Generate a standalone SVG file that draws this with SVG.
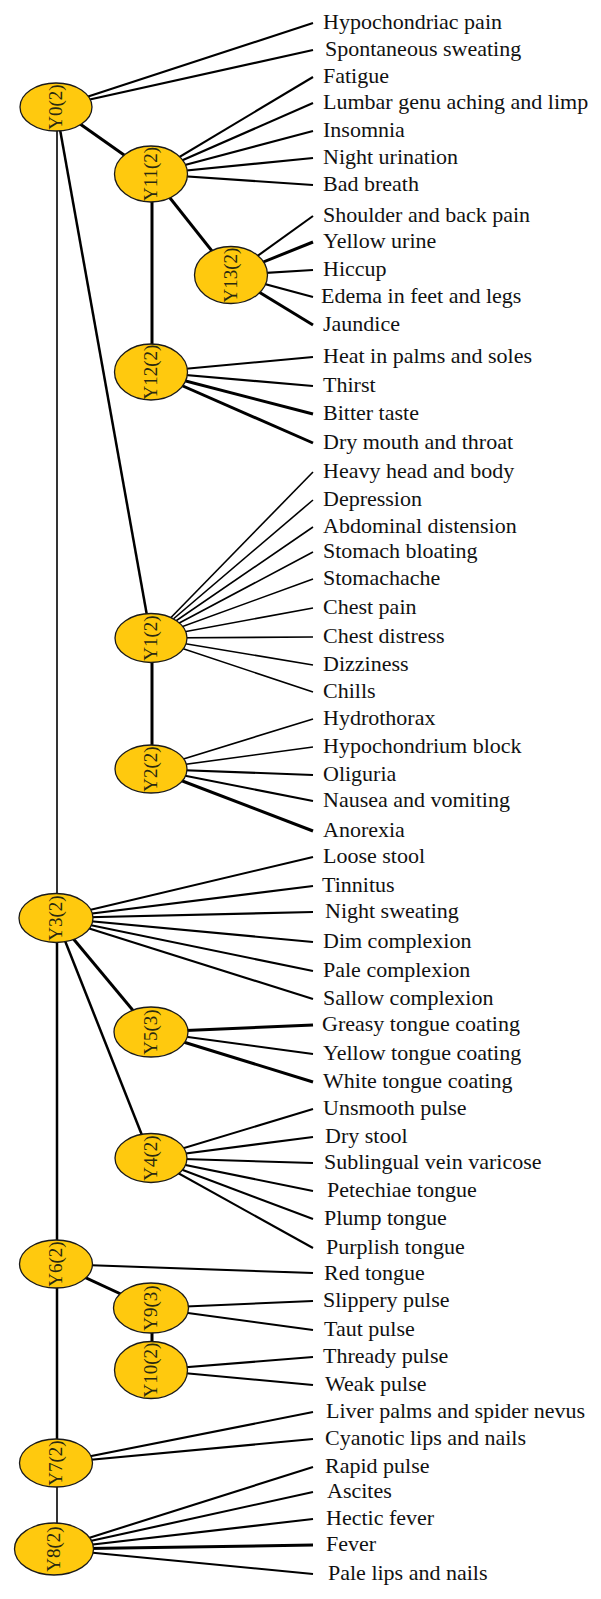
<svg xmlns="http://www.w3.org/2000/svg" width="601" height="1599" viewBox="0 0 601 1599">
<style>
.bg{fill:#ffffff}
line{stroke:#000;stroke-linecap:butt}
.e1{stroke-width:1.6}
.e2{stroke-width:2.1}
.e25{stroke-width:2.5}
.e3{stroke-width:3}
.node ellipse{fill:#FFC90E;stroke:#1a1a1a;stroke-width:1.3}
.node text{font-family:"Liberation Serif","Times New Roman",serif;font-size:19px;fill:#2a2a10;text-anchor:middle}
.lbl{font-family:"Liberation Serif","Times New Roman",serif;font-size:22px;fill:#111}
</style>
<rect class="bg" x="0" y="0" width="601" height="1599"/>
<g id="connectors">
<line class="e1" x1="57" y1="107" x2="57" y2="918"/>
<line class="e25" x1="57" y1="918" x2="57" y2="1264"/>
<line class="e25" x1="57" y1="1264" x2="57" y2="1463"/>
<line class="e1" x1="57" y1="1463" x2="57" y2="1549"/>
<line class="e3" x1="56" y1="107" x2="151" y2="174"/>
<line class="e25" x1="56" y1="107" x2="151" y2="638"/>
<line class="e3" x1="151" y1="174" x2="231" y2="275"/>
<line class="e3" x1="152" y1="174" x2="152" y2="372"/>
<line class="e3" x1="152" y1="638" x2="152" y2="769"/>
<line class="e3" x1="56" y1="918" x2="151" y2="1032"/>
<line class="e25" x1="56" y1="918" x2="151" y2="1158"/>
<line class="e3" x1="56" y1="1264" x2="151" y2="1308"/>
<line class="e3" x1="152" y1="1308" x2="152" y2="1370"/>
<line class="e2" x1="56" y1="107" x2="313" y2="23"/>
<line class="e2" x1="56" y1="107" x2="313" y2="50"/>
<line class="e2" x1="151" y1="174" x2="313" y2="77"/>
<line class="e2" x1="151" y1="174" x2="313" y2="103"/>
<line class="e2" x1="151" y1="174" x2="313" y2="131"/>
<line class="e2" x1="151" y1="174" x2="313" y2="158"/>
<line class="e2" x1="151" y1="174" x2="313" y2="185"/>
<line class="e2" x1="231" y1="275" x2="313" y2="216"/>
<line class="e3" x1="231" y1="275" x2="313" y2="242"/>
<line class="e2" x1="231" y1="275" x2="313" y2="270"/>
<line class="e2" x1="231" y1="275" x2="313" y2="297"/>
<line class="e3" x1="231" y1="275" x2="313" y2="325"/>
<line class="e2" x1="151" y1="372" x2="313" y2="357"/>
<line class="e2" x1="151" y1="372" x2="313" y2="386"/>
<line class="e3" x1="151" y1="372" x2="313" y2="414"/>
<line class="e3" x1="151" y1="372" x2="313" y2="443"/>
<line class="e1" x1="151" y1="638" x2="313" y2="472"/>
<line class="e1" x1="151" y1="638" x2="313" y2="500"/>
<line class="e1" x1="151" y1="638" x2="313" y2="527"/>
<line class="e1" x1="151" y1="638" x2="313" y2="552"/>
<line class="e1" x1="151" y1="638" x2="313" y2="579"/>
<line class="e1" x1="151" y1="638" x2="313" y2="608"/>
<line class="e1" x1="151" y1="638" x2="313" y2="637"/>
<line class="e1" x1="151" y1="638" x2="313" y2="665"/>
<line class="e1" x1="151" y1="638" x2="313" y2="692"/>
<line class="e1" x1="151" y1="769" x2="313" y2="719"/>
<line class="e1" x1="151" y1="769" x2="313" y2="747"/>
<line class="e2" x1="151" y1="769" x2="313" y2="775"/>
<line class="e2" x1="151" y1="769" x2="313" y2="801"/>
<line class="e3" x1="151" y1="769" x2="313" y2="831"/>
<line class="e2" x1="56" y1="918" x2="313" y2="857"/>
<line class="e2" x1="56" y1="918" x2="313" y2="886"/>
<line class="e2" x1="56" y1="918" x2="313" y2="912"/>
<line class="e2" x1="56" y1="918" x2="313" y2="942"/>
<line class="e2" x1="56" y1="918" x2="313" y2="971"/>
<line class="e2" x1="56" y1="918" x2="313" y2="999"/>
<line class="e3" x1="151" y1="1032" x2="313" y2="1025"/>
<line class="e2" x1="151" y1="1032" x2="313" y2="1054"/>
<line class="e3" x1="151" y1="1032" x2="313" y2="1082"/>
<line class="e2" x1="151" y1="1158" x2="313" y2="1109"/>
<line class="e2" x1="151" y1="1158" x2="313" y2="1137"/>
<line class="e2" x1="151" y1="1158" x2="313" y2="1163"/>
<line class="e2" x1="151" y1="1158" x2="313" y2="1191"/>
<line class="e2" x1="151" y1="1158" x2="313" y2="1219"/>
<line class="e2" x1="151" y1="1158" x2="313" y2="1248"/>
<line class="e2" x1="56" y1="1264" x2="313" y2="1273"/>
<line class="e2" x1="151" y1="1308" x2="313" y2="1301"/>
<line class="e2" x1="151" y1="1308" x2="313" y2="1330"/>
<line class="e2" x1="151" y1="1370" x2="313" y2="1357"/>
<line class="e2" x1="151" y1="1370" x2="313" y2="1385"/>
<line class="e2" x1="56" y1="1463" x2="313" y2="1412"/>
<line class="e2" x1="56" y1="1463" x2="313" y2="1439"/>
<line class="e2" x1="54" y1="1549" x2="313" y2="1467"/>
<line class="e2" x1="54" y1="1549" x2="313" y2="1492"/>
<line class="e2" x1="54" y1="1549" x2="313" y2="1519"/>
<line class="e3" x1="54" y1="1549" x2="313" y2="1545"/>
<line class="e2" x1="54" y1="1549" x2="313" y2="1574"/>
</g>
<g id="Y0" class="node"><ellipse cx="56" cy="107" rx="36" ry="24"/><text transform="translate(56,107) rotate(-90)" x="0" y="6">Y0(2)</text></g>
<g id="Y11" class="node"><ellipse cx="151" cy="174" rx="36.5" ry="28"/><text transform="translate(151,174) rotate(-90)" x="0" y="6">Y11(2)</text></g>
<g id="Y13" class="node"><ellipse cx="231" cy="275" rx="36.5" ry="28.5"/><text transform="translate(231,275) rotate(-90)" x="0" y="6">Y13(2)</text></g>
<g id="Y12" class="node"><ellipse cx="151" cy="372" rx="36.5" ry="28"/><text transform="translate(151,372) rotate(-90)" x="0" y="6">Y12(2)</text></g>
<g id="Y1" class="node"><ellipse cx="151" cy="638" rx="36" ry="24.5"/><text transform="translate(151,638) rotate(-90)" x="0" y="6">Y1(2)</text></g>
<g id="Y2" class="node"><ellipse cx="151" cy="769" rx="36" ry="24"/><text transform="translate(151,769) rotate(-90)" x="0" y="6">Y2(2)</text></g>
<g id="Y3" class="node"><ellipse cx="56" cy="918" rx="37" ry="24.5"/><text transform="translate(56,918) rotate(-90)" x="0" y="6">Y3(2)</text></g>
<g id="Y5" class="node"><ellipse cx="151" cy="1032" rx="37" ry="25"/><text transform="translate(151,1032) rotate(-90)" x="0" y="6">Y5(3)</text></g>
<g id="Y4" class="node"><ellipse cx="151" cy="1158" rx="36" ry="24.5"/><text transform="translate(151,1158) rotate(-90)" x="0" y="6">Y4(2)</text></g>
<g id="Y6" class="node"><ellipse cx="56" cy="1264" rx="36.5" ry="24"/><text transform="translate(56,1264) rotate(-90)" x="0" y="6">Y6(2)</text></g>
<g id="Y9" class="node"><ellipse cx="151" cy="1308" rx="37.5" ry="25"/><text transform="translate(151,1308) rotate(-90)" x="0" y="6">Y9(3)</text></g>
<g id="Y10" class="node"><ellipse cx="151" cy="1370" rx="36.5" ry="28.5"/><text transform="translate(151,1370) rotate(-90)" x="0" y="6">Y10(2)</text></g>
<g id="Y7" class="node"><ellipse cx="56" cy="1463" rx="36.5" ry="24"/><text transform="translate(56,1463) rotate(-90)" x="0" y="6">Y7(2)</text></g>
<g id="Y8" class="node"><ellipse cx="54" cy="1549" rx="39.5" ry="26"/><text transform="translate(54,1549) rotate(-90)" x="0" y="6">Y8(2)</text></g>
<g id="labels">
<text class="lbl" x="323" y="29">Hypochondriac pain</text>
<text class="lbl" x="325" y="56">Spontaneous sweating</text>
<text class="lbl" x="323" y="83">Fatigue</text>
<text class="lbl" x="323" y="109">Lumbar genu aching and limp</text>
<text class="lbl" x="323" y="137">Insomnia</text>
<text class="lbl" x="323" y="164">Night urination</text>
<text class="lbl" x="323" y="191">Bad breath</text>
<text class="lbl" x="323" y="222">Shoulder and back pain</text>
<text class="lbl" x="323" y="248">Yellow urine</text>
<text class="lbl" x="323" y="276">Hiccup</text>
<text class="lbl" x="321" y="303">Edema in feet and legs</text>
<text class="lbl" x="323" y="331">Jaundice</text>
<text class="lbl" x="323" y="363">Heat in palms and soles</text>
<text class="lbl" x="323" y="392">Thirst</text>
<text class="lbl" x="323" y="420">Bitter taste</text>
<text class="lbl" x="323" y="449">Dry mouth and throat</text>
<text class="lbl" x="323" y="478">Heavy head and body</text>
<text class="lbl" x="323" y="506">Depression</text>
<text class="lbl" x="323" y="533">Abdominal distension</text>
<text class="lbl" x="323" y="558">Stomach bloating</text>
<text class="lbl" x="323" y="585">Stomachache</text>
<text class="lbl" x="323" y="614">Chest pain</text>
<text class="lbl" x="323" y="643">Chest distress</text>
<text class="lbl" x="323" y="671">Dizziness</text>
<text class="lbl" x="323" y="698">Chills</text>
<text class="lbl" x="323" y="725">Hydrothorax</text>
<text class="lbl" x="323" y="753">Hypochondrium block</text>
<text class="lbl" x="323" y="781">Oliguria</text>
<text class="lbl" x="323" y="807">Nausea and vomiting</text>
<text class="lbl" x="323" y="837">Anorexia</text>
<text class="lbl" x="323" y="863">Loose stool</text>
<text class="lbl" x="322" y="892">Tinnitus</text>
<text class="lbl" x="325" y="918">Night sweating</text>
<text class="lbl" x="323" y="948">Dim complexion</text>
<text class="lbl" x="323" y="977">Pale complexion</text>
<text class="lbl" x="323" y="1005">Sallow complexion</text>
<text class="lbl" x="322" y="1031">Greasy tongue coating</text>
<text class="lbl" x="323" y="1060">Yellow tongue coating</text>
<text class="lbl" x="323" y="1088">White tongue coating</text>
<text class="lbl" x="323" y="1115">Unsmooth pulse</text>
<text class="lbl" x="325" y="1143">Dry stool</text>
<text class="lbl" x="324" y="1169">Sublingual vein varicose</text>
<text class="lbl" x="327" y="1197">Petechiae tongue</text>
<text class="lbl" x="324" y="1225">Plump tongue</text>
<text class="lbl" x="326" y="1254">Purplish tongue</text>
<text class="lbl" x="324" y="1280">Red tongue</text>
<text class="lbl" x="323" y="1307">Slippery pulse</text>
<text class="lbl" x="324" y="1336">Taut pulse</text>
<text class="lbl" x="323" y="1363">Thready pulse</text>
<text class="lbl" x="325" y="1391">Weak pulse</text>
<text class="lbl" x="326" y="1418">Liver palms and spider nevus</text>
<text class="lbl" x="325" y="1445">Cyanotic lips and nails</text>
<text class="lbl" x="325" y="1473">Rapid pulse</text>
<text class="lbl" x="327" y="1498">Ascites</text>
<text class="lbl" x="326" y="1525">Hectic fever</text>
<text class="lbl" x="326" y="1551">Fever</text>
<text class="lbl" x="328" y="1580">Pale lips and nails</text>
</g>
</svg>
